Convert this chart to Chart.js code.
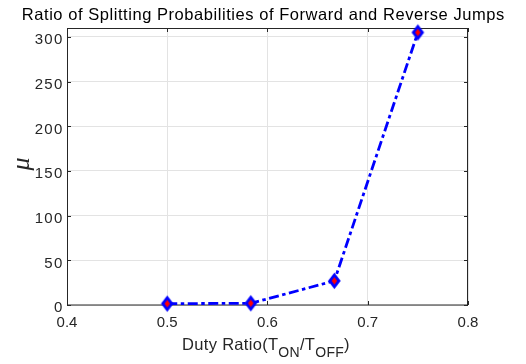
<!DOCTYPE html>
<html>
<head>
<meta charset="utf-8">
<script src="https://cdn.jsdelivr.net/npm/chart.js@4"></script>
<style>
  html, body { margin: 0; padding: 0; background: #ffffff; }
  #wrap { width: 526px; height: 364px; }
</style>
</head>
<body>
<div id="wrap"><canvas id="c" width="526" height="364"></canvas></div>
<script>
// Duty ratio (T_ON / T_OFF) and the ratio mu of forward/reverse splitting probabilities
const dutyRatio = [0.5, 0.5833, 0.6667, 0.75];
const muValues = [1.5, 1.9, 27, 305];

// Axis ticks
const xTickValues = [0.4, 0.5, 0.6, 0.7, 0.8];
const xTickLabels = ['0.4', '0.5', '0.6', '0.7', '0.8'];
const yTickValues = [0, 50, 100, 150, 200, 250, 300];
const yTickLabels = ['0', '50', '100', '150', '200', '250', '300'];

// Texts
const titleText = 'Ratio of Splitting Probabilities of Forward and Reverse Jumps';
const yLabelText = 'μ';
const xLabelParts = [
  ['Duty Ratio(T', false],
  ['ON', true],
  ['/T', false],
  ['OFF', true],
  [')', false]
];

const AXIS_COLOR = '#262626';
const SANS = '"Liberation Sans", Arial, Helvetica, sans-serif';

// Diamond marker: blue outline with a red core
function makeDiamond() {
  const w = 15, h = 18;
  const cv = document.createElement('canvas');
  cv.width = w; cv.height = h;
  const g = cv.getContext('2d');
  const cx = w / 2, cy = h / 2;
  g.fillStyle = '#0000ff';
  g.beginPath();
  g.moveTo(cx, cy - 8.3); g.lineTo(cx + 6.3, cy); g.lineTo(cx, cy + 8.3); g.lineTo(cx - 6.3, cy);
  g.closePath(); g.fill();
  g.fillStyle = '#ff0000';
  g.beginPath();
  g.moveTo(cx, cy - 3.8); g.lineTo(cx + 2.7, cy); g.lineTo(cx, cy + 3.8); g.lineTo(cx - 2.7, cy);
  g.closePath(); g.fill();
  return cv;
}
const diamond = makeDiamond();

// Text with extra tracking, aligned by its visible extent
function spacedText(ctx, text, x, y, spacing, align) {
  ctx.letterSpacing = spacing + 'px';
  const w = ctx.measureText(text).width - spacing;
  let left = x;
  if (align === 'center') left = x - w / 2;
  else if (align === 'right') left = x - w;
  ctx.textAlign = 'left';
  ctx.fillText(text, left, y);
  ctx.letterSpacing = '0px';
  return w + spacing;
}

// Axes box, inward tick marks, tick labels and the title/axis labels
const decorations = {
  id: 'decorations',
  beforeDatasetsDraw(chart) {
    const ctx = chart.ctx;
    const a = chart.chartArea;
    const xs = chart.scales.x, ys = chart.scales.y;
    const tl = 4;
    ctx.save();
    ctx.strokeStyle = AXIS_COLOR;
    ctx.lineWidth = 1;
    ctx.beginPath();
    ctx.moveTo(a.left + 0.5, a.top + 0.5);
    ctx.lineTo(a.left + 0.5, a.bottom);
    ctx.moveTo(a.left, a.bottom);
    ctx.lineTo(a.right, a.bottom);
    ctx.moveTo(a.right - 0.5, a.bottom);
    ctx.lineTo(a.right - 0.5, a.top + 0.5);
    ctx.moveTo(a.right, a.top + 0.5);
    ctx.lineTo(a.left, a.top + 0.5);
    xTickValues.forEach(v => {
      const px = Math.round(xs.getPixelForValue(v)) + 0.5;
      ctx.moveTo(px, a.bottom); ctx.lineTo(px, a.bottom - tl);
      ctx.moveTo(px, a.top); ctx.lineTo(px, a.top + tl);
    });
    yTickValues.forEach(v => {
      const py = Math.round(ys.getPixelForValue(v)) + 0.5;
      ctx.moveTo(a.left, py); ctx.lineTo(a.left + tl, py);
      ctx.moveTo(a.right, py); ctx.lineTo(a.right - tl, py);
    });
    ctx.stroke();

    // tick labels
    ctx.fillStyle = AXIS_COLOR;
    ctx.font = '15px ' + SANS;
    ctx.textBaseline = 'alphabetic';
    xTickValues.forEach((v, i) => {
      spacedText(ctx, xTickLabels[i], xs.getPixelForValue(v), a.bottom + 22, 0, 'center');
    });
    yTickValues.forEach((v, i) => {
      spacedText(ctx, yTickLabels[i], a.left - 4.7, ys.getPixelForValue(v) + 7.3, 1.3, 'right');
    });
    ctx.restore();
  },
  afterDraw(chart) {
    const ctx = chart.ctx;
    ctx.save();
    ctx.textBaseline = 'alphabetic';
    // title
    ctx.fillStyle = '#000000';
    ctx.font = '16.5px ' + SANS;
    spacedText(ctx, titleText, 263, 19.5, 0.55, 'center');

    // x label with subscripts
    const mainFont = '16.5px ' + SANS;
    const subFont = '14px ' + SANS;
    const sp = 0.3;
    let total = 0;
    xLabelParts.forEach(([t, sub]) => {
      ctx.font = sub ? subFont : mainFont;
      ctx.letterSpacing = sp + 'px';
      total += ctx.measureText(t).width;
    });
    ctx.letterSpacing = '0px';
    let x = 266 - total / 2;
    ctx.fillStyle = AXIS_COLOR;
    xLabelParts.forEach(([t, sub]) => {
      ctx.font = sub ? subFont : mainFont;
      x += spacedText(ctx, t, x, sub ? 356.5 : 349.5, sp, 'left');
    });

    // y label
    ctx.translate(22.5, 164);
    ctx.rotate(-Math.PI / 2);
    ctx.font = 'italic 26px "Liberation Serif", "DejaVu Serif", serif';
    ctx.textAlign = 'center';
    ctx.textBaseline = 'middle';
    ctx.fillText(yLabelText, 0, 0);
    ctx.restore();
  }
};

new Chart(document.getElementById('c'), {
  type: 'line',
  data: {
    datasets: [{
      data: dutyRatio.map((d, i) => ({ x: d, y: muValues[i] })),
      borderColor: '#0000ff',
      borderWidth: 2.8,
      borderDash: [10, 3.5, 3.5, 3.5],
      borderCapStyle: 'butt',
      fill: false,
      tension: 0,
      pointStyle: diamond,
      pointRadius: 8,
      clip: false
    }]
  },
  options: {
    responsive: false,
    devicePixelRatio: 1,
    animation: false,
    events: [],
    layout: { padding: { top: 28, right: 58, left: 0, bottom: 0 } },
    plugins: { legend: { display: false }, tooltip: { enabled: false }, title: { display: false } },
    scales: {
      x: {
        type: 'linear',
        min: 0.4,
        max: 0.8,
        afterBuildTicks: s => { s.ticks = xTickValues.map(v => ({ value: v })); },
        afterFit: s => { s.height = 59; },
        grid: { color: '#e3e3e3', lineWidth: 1, drawTicks: false },
        border: { display: false },
        ticks: { display: false }
      },
      y: {
        type: 'linear',
        min: 0,
        max: 310,
        afterBuildTicks: s => { s.ticks = yTickValues.map(v => ({ value: v })); },
        afterFit: s => { s.width = 67; },
        grid: { color: '#e3e3e3', lineWidth: 1, drawTicks: false },
        border: { display: false },
        ticks: { display: false }
      }
    }
  },
  plugins: [decorations]
});
</script>
</body>
</html>
